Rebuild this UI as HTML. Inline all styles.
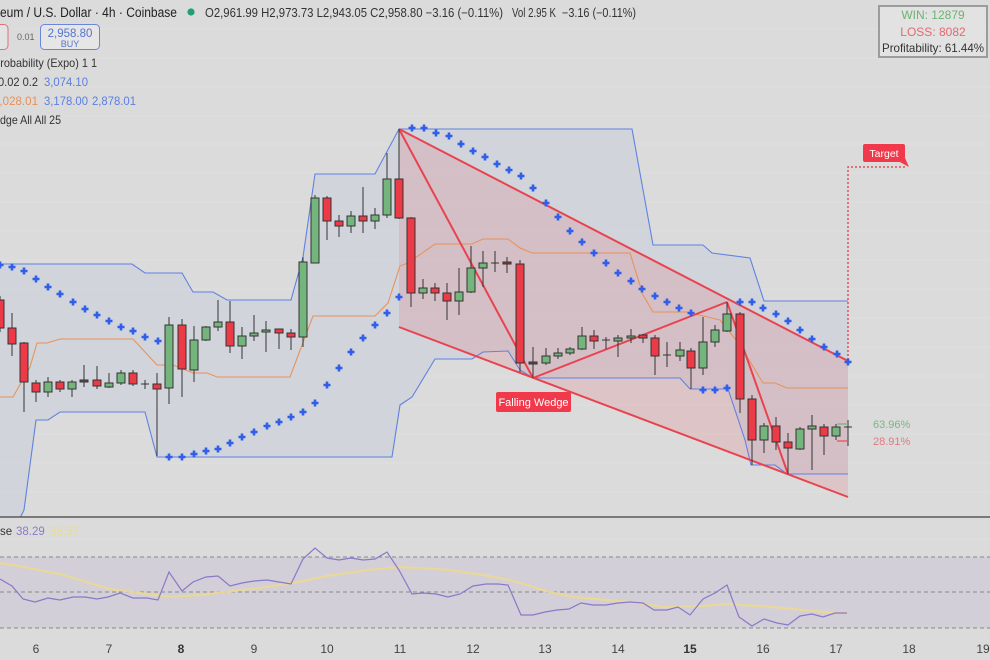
<!DOCTYPE html>
<html>
<head>
<meta charset="utf-8">
<style>
html,body{margin:0;padding:0;background:#dbdbdb;}
svg{display:block;font-family:"Liberation Sans",sans-serif;}
</style>
</head>
<body>
<svg width="990" height="660" viewBox="0 0 990 660" xmlns="http://www.w3.org/2000/svg">
<defs>
<clipPath id="mainclip"><rect x="0" y="0" width="990" height="517"/></clipPath>
</defs>
<rect x="0" y="0" width="990" height="660" fill="#dbdbdb"/>

<!-- grid main -->
<g stroke="#e3e3e3" stroke-width="1" opacity="0.5">
<line x1="0" y1="29" x2="990" y2="29"/><line x1="0" y1="58" x2="990" y2="58"/><line x1="0" y1="87" x2="990" y2="87"/><line x1="0" y1="116" x2="990" y2="116"/><line x1="0" y1="144" x2="990" y2="144"/><line x1="0" y1="173" x2="990" y2="173"/><line x1="0" y1="202" x2="990" y2="202"/><line x1="0" y1="231" x2="990" y2="231"/><line x1="0" y1="260" x2="990" y2="260"/><line x1="0" y1="289" x2="990" y2="289"/><line x1="0" y1="318" x2="990" y2="318"/><line x1="0" y1="347" x2="990" y2="347"/><line x1="0" y1="376" x2="990" y2="376"/><line x1="0" y1="405" x2="990" y2="405"/><line x1="0" y1="434" x2="990" y2="434"/><line x1="0" y1="463" x2="990" y2="463"/><line x1="0" y1="492" x2="990" y2="492"/>
</g>

<g clip-path="url(#mainclip)">
<!-- blue channel fill -->
<polygon fill="#8aa6dc" fill-opacity="0.12" points="0,264 132,264 145,273 182,273 193,292 213,292 227,300 291,300 303,257 315,174 375,174 399,129 632,129 653,245 703,245 712,253 750,258 764,301 848,301 848,474 787,474 775,465 751,465 745,440 728,389 690,389 680,378 533,378 520,370 508,351 483,352 472,359 435,359 412,397 400,405 392,457 157,457 145,412 60,412 48,420 36,420 24,510 18,522 0,522"/>
<!-- wedge fill -->
<polygon fill="#f23645" fill-opacity="0.13" points="399,129 848,361 848,497 399,327"/>
<!-- blue lines -->
<polyline fill="none" stroke="#5f82e0" stroke-width="1.1" points="0,264 132,264 145,273 182,273 193,292 213,292 227,300 291,300 303,257 315,174 375,174 399,129 632,129 653,245 703,245 712,253 750,258 764,301 848,301"/>
<polyline fill="none" stroke="#5f82e0" stroke-width="1.1" points="18,522 24,510 36,420 48,420 60,412 145,412 157,457 392,457 400,405 412,397 435,359 472,359 483,352 508,351 520,370 533,378 680,378 690,389 728,389 745,440 751,465 775,465 787,474 848,474"/>
<!-- orange -->
<polyline fill="none" stroke="#e8925a" stroke-width="1.1" points="0,397 13,397 30,367 37,343 47,343 60,339 133,339 157,365 173,365 193,373 207,373 217,377 290,377 313,316 375,316 388,303 400,266 408,263 435,244 472,244 483,239 508,239 520,248 532,253 630,253 643,295 653,312 687,312 720,320 740,345 763,383 775,383 787,388 848,388"/>
<!-- red wedge lines -->
<g stroke="#e8434f" stroke-width="2" fill="none">
<line x1="399" y1="129" x2="848" y2="361"/>
<line x1="399" y1="327" x2="848" y2="497"/>
<line x1="399" y1="129" x2="533" y2="378"/>
<line x1="533" y1="378" x2="727" y2="302"/>
<line x1="727" y1="302" x2="788" y2="474"/>
</g>
<!-- target dotted -->
<polyline fill="none" stroke="#e0505e" stroke-width="1.5" stroke-dasharray="2,2" points="848,360 848,167 906,167"/>

<!-- candles -->
<g stroke="#333" stroke-width="1">
<line x1="0" y1="296" x2="0" y2="332"/><rect x="-4" y="300" width="8" height="28" fill="#ec3a46"/>
<line x1="12" y1="313" x2="12" y2="356"/><rect x="8" y="328" width="8" height="16" fill="#ec3a46"/>
<line x1="24" y1="342" x2="24" y2="412"/><rect x="20" y="343" width="8" height="39" fill="#ec3a46"/>
<line x1="36" y1="380" x2="36" y2="402"/><rect x="32" y="383" width="8" height="9" fill="#ec3a46"/>
<line x1="48" y1="377" x2="48" y2="397"/><rect x="44" y="382" width="8" height="10" fill="#74b57d"/>
<line x1="60" y1="380" x2="60" y2="392"/><rect x="56" y="382" width="8" height="7" fill="#ec3a46"/>
<line x1="72" y1="380" x2="72" y2="397"/><rect x="68" y="382" width="8" height="7" fill="#74b57d"/>
<line x1="84" y1="365" x2="84" y2="387"/><rect x="80" y="380" width="8" height="2" fill="#555"/>
<line x1="97" y1="366" x2="97" y2="389"/><rect x="93" y="380" width="8" height="6" fill="#ec3a46"/>
<line x1="109" y1="373" x2="109" y2="388"/><rect x="105" y="383" width="8" height="4" fill="#74b57d"/>
<line x1="121" y1="370" x2="121" y2="385"/><rect x="117" y="373" width="8" height="10" fill="#74b57d"/>
<line x1="133" y1="370" x2="133" y2="386"/><rect x="129" y="373" width="8" height="11" fill="#ec3a46"/>
<line x1="145" y1="380" x2="145" y2="389"/><line x1="141" y1="384" x2="149" y2="384"/>
<line x1="157" y1="373" x2="157" y2="456"/><rect x="153" y="384" width="8" height="5" fill="#ec3a46"/>
<line x1="169" y1="317" x2="169" y2="404"/><rect x="165" y="325" width="8" height="63" fill="#74b57d"/>
<line x1="182" y1="319" x2="182" y2="397"/><rect x="178" y="325" width="8" height="44" fill="#ec3a46"/>
<line x1="194" y1="326" x2="194" y2="382"/><rect x="190" y="340" width="8" height="30" fill="#74b57d"/>
<line x1="206" y1="326" x2="206" y2="341"/><rect x="202" y="327" width="8" height="13" fill="#74b57d"/>
<line x1="218" y1="300" x2="218" y2="331"/><rect x="214" y="322" width="8" height="5" fill="#74b57d"/>
<line x1="230" y1="301" x2="230" y2="353"/><rect x="226" y="322" width="8" height="24" fill="#ec3a46"/>
<line x1="242" y1="327" x2="242" y2="359"/><rect x="238" y="336" width="8" height="10" fill="#74b57d"/>
<line x1="254" y1="315" x2="254" y2="341"/><rect x="250" y="333" width="8" height="3" fill="#74b57d"/>
<line x1="266" y1="321" x2="266" y2="352"/><rect x="262" y="330" width="8" height="2" fill="#74b57d"/>
<line x1="279" y1="329" x2="279" y2="349"/><rect x="275" y="329" width="8" height="4" fill="#ec3a46"/>
<line x1="291" y1="329" x2="291" y2="350"/><rect x="287" y="333" width="8" height="4" fill="#ec3a46"/>
<line x1="303" y1="257" x2="303" y2="347"/><rect x="299" y="262" width="8" height="75" fill="#74b57d"/>
<line x1="315" y1="195" x2="315" y2="263"/><rect x="311" y="198" width="8" height="65" fill="#74b57d"/>
<line x1="327" y1="196" x2="327" y2="240"/><rect x="323" y="198" width="8" height="23" fill="#ec3a46"/>
<line x1="339" y1="215" x2="339" y2="237"/><rect x="335" y="221" width="8" height="5" fill="#ec3a46"/>
<line x1="351" y1="211" x2="351" y2="233"/><rect x="347" y="216" width="8" height="10" fill="#74b57d"/>
<line x1="363" y1="187" x2="363" y2="233"/><rect x="359" y="216" width="8" height="5" fill="#ec3a46"/>
<line x1="375" y1="208" x2="375" y2="229"/><rect x="371" y="215" width="8" height="6" fill="#74b57d"/>
<line x1="387" y1="153" x2="387" y2="218"/><rect x="383" y="179" width="8" height="36" fill="#74b57d"/>
<line x1="399" y1="129" x2="399" y2="219"/><rect x="395" y="179" width="8" height="39" fill="#ec3a46"/>
<line x1="411" y1="217" x2="411" y2="307"/><rect x="407" y="218" width="8" height="75" fill="#ec3a46"/>
<line x1="423" y1="279" x2="423" y2="299"/><rect x="419" y="288" width="8" height="5" fill="#74b57d"/>
<line x1="435" y1="283" x2="435" y2="301"/><rect x="431" y="288" width="8" height="5" fill="#ec3a46"/>
<line x1="447" y1="283" x2="447" y2="320"/><rect x="443" y="293" width="8" height="8" fill="#ec3a46"/>
<line x1="459" y1="268" x2="459" y2="315"/><rect x="455" y="292" width="8" height="9" fill="#74b57d"/>
<line x1="471" y1="246" x2="471" y2="293"/><rect x="467" y="268" width="8" height="24" fill="#74b57d"/>
<line x1="483" y1="251" x2="483" y2="287"/><rect x="479" y="263" width="8" height="5" fill="#74b57d"/>
<line x1="495" y1="251" x2="495" y2="272"/><line x1="491" y1="263" x2="499" y2="263"/>
<line x1="507" y1="257" x2="507" y2="273"/><rect x="503" y="262" width="8" height="2" fill="#a33"/>
<line x1="520" y1="260" x2="520" y2="372"/><rect x="516" y="264" width="8" height="99" fill="#ec3a46"/>
<line x1="533" y1="347" x2="533" y2="378"/><rect x="529" y="362" width="8" height="2" fill="#555"/>
<line x1="546" y1="348" x2="546" y2="365"/><rect x="542" y="356" width="8" height="7" fill="#74b57d"/>
<line x1="558" y1="348" x2="558" y2="359"/><rect x="554" y="353" width="8" height="3" fill="#74b57d"/>
<line x1="570" y1="347" x2="570" y2="355"/><rect x="566" y="349" width="8" height="4" fill="#74b57d"/>
<line x1="582" y1="327" x2="582" y2="350"/><rect x="578" y="336" width="8" height="13" fill="#74b57d"/>
<line x1="594" y1="330" x2="594" y2="349"/><rect x="590" y="336" width="8" height="5" fill="#ec3a46"/>
<line x1="606" y1="337" x2="606" y2="349"/><line x1="602" y1="340" x2="610" y2="340"/>
<line x1="618" y1="335" x2="618" y2="357"/><rect x="614" y="338" width="8" height="3" fill="#74b57d"/>
<line x1="631" y1="329" x2="631" y2="343"/><rect x="627" y="336" width="8" height="2" fill="#74b57d"/>
<line x1="643" y1="334" x2="643" y2="343"/><rect x="639" y="335" width="8" height="3" fill="#ec3a46"/>
<line x1="655" y1="335" x2="655" y2="375"/><rect x="651" y="338" width="8" height="18" fill="#ec3a46"/>
<line x1="667" y1="342" x2="667" y2="367"/><line x1="663" y1="355" x2="671" y2="355"/>
<line x1="680" y1="342" x2="680" y2="361"/><rect x="676" y="350" width="8" height="6" fill="#74b57d"/>
<line x1="691" y1="348" x2="691" y2="389"/><rect x="687" y="351" width="8" height="17" fill="#ec3a46"/>
<line x1="703" y1="317" x2="703" y2="375"/><rect x="699" y="342" width="8" height="26" fill="#74b57d"/>
<line x1="715" y1="325" x2="715" y2="347"/><rect x="711" y="330" width="8" height="12" fill="#74b57d"/>
<line x1="727" y1="302" x2="727" y2="332"/><rect x="723" y="314" width="8" height="17" fill="#74b57d"/>
<line x1="740" y1="312" x2="740" y2="413"/><rect x="736" y="314" width="8" height="85" fill="#ec3a46"/>
<line x1="752" y1="395" x2="752" y2="465"/><rect x="748" y="399" width="8" height="41" fill="#ec3a46"/>
<line x1="764" y1="423" x2="764" y2="453"/><rect x="760" y="426" width="8" height="14" fill="#74b57d"/>
<line x1="776" y1="417" x2="776" y2="450"/><rect x="772" y="426" width="8" height="16" fill="#ec3a46"/>
<line x1="788" y1="433" x2="788" y2="474"/><rect x="784" y="442" width="8" height="6" fill="#ec3a46"/>
<line x1="800" y1="427" x2="800" y2="450"/><rect x="796" y="429" width="8" height="20" fill="#74b57d"/>
<line x1="812" y1="415" x2="812" y2="470"/><rect x="808" y="426" width="8" height="3" fill="#74b57d"/>
<line x1="824" y1="424" x2="824" y2="455"/><rect x="820" y="427" width="8" height="9" fill="#ec3a46"/>
<line x1="836" y1="424" x2="836" y2="440"/><rect x="832" y="427" width="8" height="9" fill="#74b57d"/>
<line x1="848" y1="420" x2="848" y2="446"/><line x1="844" y1="427" x2="852" y2="427"/>
</g>
<!-- small target/stop lines -->
<line x1="837" y1="424" x2="848" y2="424" stroke="#6fb578" stroke-width="1.2"/>
<line x1="837" y1="441" x2="848" y2="441" stroke="#ec4a55" stroke-width="1.2"/>

<!-- SAR crosses -->
<g stroke="#2f5fea" stroke-width="2.6" fill="none">
<path d="M-3.5 265h7M0 261.5v7 M8.5 267h7M12 263.5v7 M20.5 271h7M24 267.5v7 M32.5 279h7M36 275.5v7 M44.5 287h7M48 283.5v7 M56.5 294h7M60 290.5v7 M69.5 302h7M73 298.5v7 M81.5 309h7M85 305.5v7 M93.5 315h7M97 311.5v7 M105.5 321h7M109 317.5v7 M117.5 327h7M121 323.5v7 M129.5 331h7M133 327.5v7 M141.5 337h7M145 333.5v7 M154.5 341h7M158 337.5v7"/>
<path d="M165.5 457h7M169 453.5v7 M178.5 457h7M182 453.5v7 M190.5 454h7M194 450.5v7 M202.5 451h7M206 447.5v7 M214.5 449h7M218 445.5v7 M226.5 443h7M230 439.5v7 M238.5 437h7M242 433.5v7 M250.5 432h7M254 428.5v7 M263.5 426h7M267 422.5v7 M275.5 422h7M279 418.5v7 M287.5 417h7M291 413.5v7 M299.5 412h7M303 408.5v7 M311.5 403h7M315 399.5v7 M323.5 385h7M327 381.5v7 M335.5 368h7M339 364.5v7 M347.5 352h7M351 348.5v7 M359.5 338h7M363 334.5v7 M371.5 325h7M375 321.5v7 M383.5 313h7M387 309.5v7 M395.5 297h7M399 293.5v7"/>
<path d="M408.5 128h7M412 124.5v7 M420.5 128h7M424 124.5v7 M432.5 133h7M436 129.5v7 M445.5 136h7M449 132.5v7 M457.5 144h7M461 140.5v7 M469.5 151h7M473 147.5v7 M481.5 157h7M485 153.5v7 M493.5 164h7M497 160.5v7 M505.5 170h7M509 166.5v7 M517.5 176h7M521 172.5v7 M529.5 188h7M533 184.5v7 M542.5 203h7M546 199.5v7 M554.5 217h7M558 213.5v7 M566.5 231h7M570 227.5v7 M578.5 242h7M582 238.5v7 M590.5 253h7M594 249.5v7 M602.5 263h7M606 259.5v7 M614.5 273h7M618 269.5v7 M627.5 281h7M631 277.5v7 M638.5 289h7M642 285.5v7 M651.5 296h7M655 292.5v7 M663.5 302h7M667 298.5v7 M675.5 308h7M679 304.5v7 M687.5 313h7M691 309.5v7"/>
<path d="M699.5 390h7M703 386.5v7 M711.5 390h7M715 386.5v7 M723.5 388h7M727 384.5v7"/>
<path d="M736.5 302h7M740 298.5v7 M748.5 302h7M752 298.5v7 M759.5 308h7M763 304.5v7 M772.5 314h7M776 310.5v7 M784.5 321h7M788 317.5v7 M796.5 330h7M800 326.5v7 M808.5 339h7M812 335.5v7 M820.5 347h7M824 343.5v7 M833.5 354h7M837 350.5v7 M844.5 362h7M848 358.5v7"/>
</g>
</g>

<!-- Falling wedge label -->
<rect x="496" y="392" width="75" height="20" rx="2" fill="#f03a4b"/>
<text x="533.5" y="406" font-size="11" fill="#fff" text-anchor="middle">Falling Wedge</text>
<!-- Target label -->
<polygon points="898,161 905,158 909,167" fill="#f03a4b"/>
<rect x="863" y="144" width="42" height="18" rx="2" fill="#f03a4b"/>
<text x="884" y="157" font-size="10.5" fill="#fff" text-anchor="middle">Target</text>

<!-- percentages -->
<text x="873" y="428" font-size="11" fill="#78b880">63.96%</text>
<text x="873" y="445" font-size="11" fill="#e07a82">28.91%</text>

<!-- separator -->
<line x1="0" y1="517" x2="990" y2="517" stroke="#5a5a5a" stroke-width="1.5"/>

<!-- RSI pane -->
<g stroke="#e3e3e3" stroke-width="1" opacity="0.5">
<line x1="0" y1="539" x2="990" y2="539"/><line x1="0" y1="574" x2="990" y2="574"/><line x1="0" y1="610" x2="990" y2="610"/>
</g>
<rect x="0" y="557" width="990" height="71" fill="#7e57c2" fill-opacity="0.09"/>
<g stroke="#888" stroke-width="1" stroke-dasharray="4,3">
<line x1="0" y1="557" x2="990" y2="557"/>
<line x1="0" y1="592" x2="990" y2="592"/>
<line x1="0" y1="628" x2="990" y2="628"/>
</g>
<polyline fill="none" stroke="#ecd98f" stroke-opacity="0.85" stroke-width="2.2" points="0,563 13,565 60,574 110,589 140,593 170,597 200,595 267,587 293,583 327,576 367,570 400,567 450,570 483,575 510,580 550,592 573,597 630,602 663,607 703,606 727,604 773,607 823,612 847,613"/>
<polyline fill="none" stroke="#8a78c8" stroke-width="1.2" points="0,579 12,586 23,599 35,602 48,598 60,600 73,597 85,597 97,599 108,597 120,593 133,598 147,598 158,600 169,572 182,591 193,582 206,577 218,576 230,586 242,583 254,581 267,580 279,582 291,584 303,559 315,548 327,558 339,560 351,558 363,560 375,559 387,552 399,570 412,594 423,593 436,594 448,597 460,594 473,586 486,584 498,584 508,585 521,615 533,615 545,612 557,610 569,609 581,603 593,605 606,605 618,603 630,602 643,603 654,610 667,610 678,607 690,615 703,599 715,593 727,585 739,617 752,626 764,619 777,623 788,625 800,616 812,614 823,617 835,613 847,613"/>
<text x="0" y="535" font-size="11.5" fill="#333">se</text>
<text x="16" y="535" font-size="11.5" fill="#8c7bc4">38.29</text>
<text x="50" y="535" font-size="11.5" fill="#eadc8a">38.57</text>

<!-- time axis -->
<g font-size="12" fill="#444" text-anchor="middle">
<text x="36" y="653">6</text>
<text x="109" y="653">7</text>
<text x="181" y="653" font-weight="bold" fill="#333">8</text>
<text x="254" y="653">9</text>
<text x="327" y="653">10</text>
<text x="400" y="653">11</text>
<text x="473" y="653">12</text>
<text x="545" y="653">13</text>
<text x="618" y="653">14</text>
<text x="690" y="653" font-weight="bold" fill="#333">15</text>
<text x="763" y="653">16</text>
<text x="836" y="653">17</text>
<text x="909" y="653">18</text>
<text x="983" y="653">19</text>
</g>

<!-- header -->
<text x="0" y="17" font-size="13.5" fill="#222" textLength="177" lengthAdjust="spacingAndGlyphs">eum / U.S. Dollar · 4h · Coinbase</text>
<circle cx="191" cy="12" r="3.6" fill="#1f9e78"/>
<text x="205" y="17" font-size="12.5" fill="#333" textLength="298" lengthAdjust="spacingAndGlyphs">O2,961.99 H2,973.73 L2,943.05 C2,958.80 −3.16 (−0.11%)</text>
<text x="512" y="17" font-size="12.5" fill="#333" textLength="44" lengthAdjust="spacingAndGlyphs">Vol 2.95 K</text>
<text x="562" y="17" font-size="12.5" fill="#333" textLength="74" lengthAdjust="spacingAndGlyphs">−3.16 (−0.11%)</text>

<!-- order buttons -->
<rect x="-20" y="24.5" width="28" height="25" rx="4" fill="#e3e3e3" stroke="#e0707a" stroke-width="1"/>
<text x="17" y="40" font-size="9" fill="#666">0.01</text>
<rect x="40.5" y="24.5" width="59" height="25" rx="4" fill="#e6e6e6" stroke="#6b86d8" stroke-width="1"/>
<text x="70" y="37" font-size="11.5" fill="#5573d0" text-anchor="middle">2,958.80</text>
<text x="70" y="47" font-size="9" fill="#5573d0" text-anchor="middle">BUY</text>

<!-- indicator legend rows -->
<text x="-7" y="67" font-size="12" fill="#333" textLength="104" lengthAdjust="spacingAndGlyphs">Probability (Expo) 1 1</text>
<text x="-2" y="86" font-size="12" fill="#333" textLength="40" lengthAdjust="spacingAndGlyphs">0.02 0.2</text>
<text x="44" y="86" font-size="12" fill="#5b7fe0" textLength="44" lengthAdjust="spacingAndGlyphs">3,074.10</text>
<text x="-7" y="105" font-size="12" fill="#e8905a" textLength="45" lengthAdjust="spacingAndGlyphs">3,028.01</text>
<text x="44" y="105" font-size="12" fill="#5b7fe0" textLength="44" lengthAdjust="spacingAndGlyphs">3,178.00</text>
<text x="92" y="105" font-size="12" fill="#5b7fe0" textLength="44" lengthAdjust="spacingAndGlyphs">2,878.01</text>
<text x="0" y="124" font-size="12" fill="#333" textLength="61" lengthAdjust="spacingAndGlyphs">dge All All 25</text>

<!-- stats box -->
<rect x="879" y="6" width="108" height="51" fill="#e2e2e2" stroke="#9c9c9c" stroke-width="2"/>
<text x="933" y="19" font-size="12" fill="#6db472" text-anchor="middle">WIN: 12879</text>
<text x="933" y="36" font-size="12" fill="#e06a6f" text-anchor="middle">LOSS: 8082</text>
<text x="933" y="52" font-size="12" fill="#333" text-anchor="middle" textLength="102" lengthAdjust="spacingAndGlyphs">Profitability: 61.44%</text>
</svg>
</body>
</html>
